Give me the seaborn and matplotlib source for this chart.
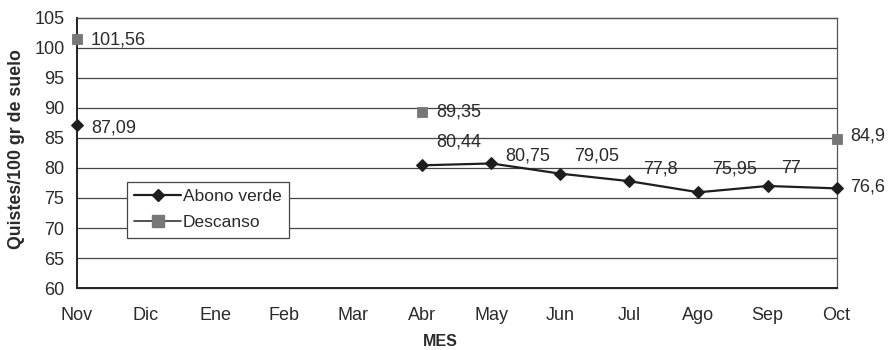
import numpy as np
import pandas as pd
import seaborn as sns
import matplotlib.pyplot as plt
from matplotlib.lines import Line2D

# Months of the sampling period
meses = ["Nov", "Dic", "Ene", "Feb", "Mar", "Abr", "May", "Jun", "Jul", "Ago", "Sep", "Oct"]

# Cysts per 100 g of soil (None = no sample that month)
abono_verde = [87.09, None, None, None, None, 80.44, 80.75, 79.05, 77.8, 75.95, 77.0, 76.6]
descanso = [101.56, None, None, None, None, 89.35, None, None, None, None, None, 84.9]

# Value labels as printed (decimal comma)
etiquetas_abono = ["87,09", "", "", "", "", "80,44", "80,75", "79,05", "77,8", "75,95", "77", "76,6"]
etiquetas_descanso = ["101,56", "", "", "", "", "89,35", "", "", "", "", "", "84,9"]

# Vertical nudges (pixels, up positive) for each label
nudge_abono = [-2.5, 0, 0, 0, 0, 23, 7.5, 18, 12, 23, 17, 1]
nudge_descanso = [-1.5, 0, 0, 0, 0, 0, 0, 0, 0, 0, 0, 2.5]

sns.set_theme(style="white")
plt.rcParams["font.family"] = ["Liberation Sans", "DejaVu Sans"]

idx = np.arange(len(meses))
df_abono = pd.DataFrame({"x": idx, "y": abono_verde, "etiqueta": etiquetas_abono, "dy": nudge_abono})
# Separate runs so the line breaks where months are missing
df_abono["tramo"] = np.where(df_abono["x"] < 5, 0, 1)
df_abono = df_abono.dropna(subset=["y"])

df_desc = pd.DataFrame({"x": idx, "y": descanso, "etiqueta": etiquetas_descanso, "dy": nudge_descanso})
df_desc = df_desc.dropna(subset=["y"])

color_abono = "#1e1e1e"
color_desc = "#777777"
texto = "#2a2a2a"
fs = 13

fig = plt.figure(figsize=(8.9, 3.5), dpi=100)
ax = fig.add_axes([0.0865, 0.177, 0.8535, 0.772])

for y in range(60, 106, 5):
    ax.axhline(y, color="#444444", lw=0.9, zorder=0)

sns.lineplot(data=df_abono, x="x", y="y", units="tramo", estimator=None,
             color=color_abono, lw=1.6, marker="D", markersize=6.5,
             markeredgecolor=color_abono, ax=ax, legend=False, zorder=3)
sns.scatterplot(data=df_desc, x="x", y="y", marker="s", s=60, color=color_desc,
                edgecolor=color_desc, ax=ax, legend=False, zorder=4, clip_on=False)

for d in (df_abono, df_desc):
    for _, r in d.iterrows():
        ax.annotate(r["etiqueta"], (r["x"], r["y"]), xytext=(14, r["dy"]),
                    textcoords="offset pixels", ha="left", va="center",
                    fontsize=fs, color=texto, annotation_clip=False)

for l in ax.lines:
    l.set_clip_on(False)

ax.set_xlim(0, 11)
ax.set_ylim(60, 105)
ax.set_xticks(idx)
ax.set_xticklabels(meses)
ax.set_yticks(range(60, 106, 5))
ax.tick_params(axis="both", labelsize=fs, colors=texto, labelcolor=texto)
ax.tick_params(axis="x", direction="inout", length=7, width=1, pad=10)
ax.tick_params(axis="y", direction="out", length=5, width=0.9, pad=4, color="#444444")

for s in ("left", "bottom"):
    ax.spines[s].set_color("#222222")
    ax.spines[s].set_linewidth(1.4)
for s in ("top", "right"):
    ax.spines[s].set_color("#555555")
    ax.spines[s].set_linewidth(0.9)

ax.set_xlabel("MES", fontsize=11.5, fontweight="bold", color=texto)
ax.set_ylabel("Quistes/100 gr de suelo", fontsize=12.8, fontweight="bold", color=texto)
ax.xaxis.set_label_coords(0.478, -0.17)
ax.xaxis.label.set_va("top")
ax.yaxis.set_label_coords(-0.069, 0.515)

handles = [
    Line2D([], [], color=color_abono, lw=1.6, marker="D", markersize=6.5),
    Line2D([], [], color="#333333", lw=1.2, marker="s", markersize=8,
           markerfacecolor=color_desc, markeredgecolor=color_desc),
]
leg = ax.legend(handles, ["Abono verde", "Descanso"], loc="upper left",
                bbox_to_anchor=(0.066, 0.393), fontsize=12.5, frameon=True,
                fancybox=False, edgecolor="#444444", framealpha=1,
                handlelength=2.7, handletextpad=0.1, borderpad=0.42,
                labelspacing=0.62, borderaxespad=0)
leg.get_frame().set_linewidth(0.9)
for t in leg.get_texts():
    t.set_color(texto)

fig.savefig("out.png", dpi=100, facecolor="white")
